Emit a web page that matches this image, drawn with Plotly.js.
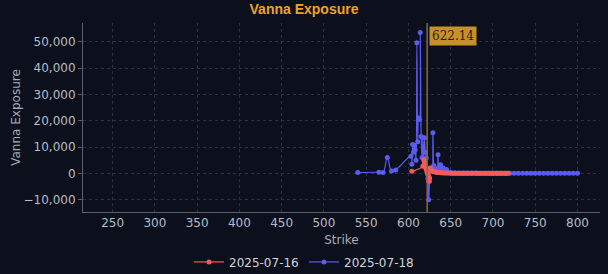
<!DOCTYPE html>
<html>
<head>
<meta charset="utf-8">
<script src="https://cdn.plot.ly/plotly-3.0.1.min.js"></script>
<style>
html,body{margin:0;padding:0;background:#0b101c;}
#chart{width:608px;height:274px;}
</style>
</head>
<body>
<div id="chart"></div>
<script>
// Series 2025-07-18 (blue)
const strikes18 = [540,565,570,575,580,585,603,604,605,606,607,608,609,610,611,612,613,614,615,616,617,618,619,620,621,622,623,624,625,626,627,628,629,630,631,632,633,634,635,636,637,638,639,640,641,645,650,655,660,665,670,675,680,685,690,695,700,705,710,715,720,725,730,735,740,745,750,755,760,765,770,775,780,785,790,795,800];
const vanna18 = [300,400,300,6000,900,1300,6500,3500,11000,8000,10700,9000,5000,49600,12000,21000,20500,53500,14000,6000,13500,3000,13500,8000,5800,2000,-2000,-10000,-3000,1000,2000,1500,15400,3000,2000,1500,1000,1200,7100,1500,1000,3300,800,500,2000,1500,300,200,150,100,100,100,80,60,50,50,40,30,30,20,20,20,10,10,10,10,10,10,10,10,10,10,10,10,10,10,10];

// Series 2025-07-16 (red)
const strikes16 = [604,617,618,619,620,621,622,623,624,625,626,627,628,629,630,631,632,633,634,635,636,637,638,639,640,642,644,646,648,650,652,654,656,658,660,662,664,666,668,670,672,674,676,678,680,682,684,686,688,690,692,694,696,698,700,702,704,706,708,710,712,714,716,718];
const vanna16 = [760,2700,5200,4000,2500,1500,300,-500,-3000,-1800,2000,1400,1000,800,700,600,500,450,400,350,300,280,250,220,200,150,120,100,80,60,50,40,30,25,20,15,10,10,10,5,5,5,5,5,0,0,0,0,0,0,0,0,0,0,0,0,0,0,0,0,0,0,0,0];

const spotPrice = 622.14;
const xTicks = [250,300,350,400,450,500,550,600,650,700,750,800];
const yTicks = [-10000,0,10000,20000,30000,40000,50000];

const axisFont = {family: 'DejaVu Sans, Verdana, sans-serif', size: 12, color: '#b8bcc6'};

const traces = [
  {
    x: strikes18, y: vanna18, name: '2025-07-18', type: 'scatter', mode: 'lines+markers',
    line: {color: '#5b5bf0', width: 1.2, shape: 'spline'},
    marker: {color: '#5b5bf0', size: 5}
  },
  {
    x: strikes16, y: vanna16, name: '2025-07-16', type: 'scatter', mode: 'lines+markers',
    line: {color: '#f55a5a', width: 1.2, shape: 'spline'},
    marker: {color: '#f55a5a', size: 5}
  }
];

const layout = {
  width: 608, height: 274,
  paper_bgcolor: '#0b101c', plot_bgcolor: '#0b101c',
  margin: {l: 83, r: 8, t: 23, b: 62, autoexpand: false},
  title: {text: '<b>Vanna Exposure</b>', x: 0.5, xanchor: 'center', yref: 'container', y: 0.985, yanchor: 'top',
          font: {family: 'Liberation Sans, Arial, sans-serif', size: 14, color: '#f0a228'}},
  xaxis: {
    range: [215, 826.6], tickvals: xTicks, ticktext: xTicks.map(String),
    showgrid: true, gridcolor: '#2a3145', griddash: 'dot', gridwidth: 1,
    zeroline: false, showline: true, linecolor: '#5a5f6c', linewidth: 1,
    ticks: '', ticklen: 0,
    tickfont: axisFont,
    title: {text: 'Strike', font: {family: 'DejaVu Sans, Verdana, sans-serif', size: 12, color: '#a8acb6'}, standoff: 6}
  },
  yaxis: {
    range: [-14700, 57150], tickvals: yTicks, tickformat: ',d',
    showgrid: true, gridcolor: '#2a3145', griddash: 'dot', gridwidth: 1,
    zeroline: false, showline: true, linecolor: '#5a5f6c', linewidth: 1,
    ticks: 'outside', ticklen: 4, tickcolor: '#5a5f6c',
    tickfont: axisFont,
    title: {text: 'Vanna Exposure', font: {family: 'DejaVu Sans, Verdana, sans-serif', size: 12, color: '#a8acb6'}, standoff: 0}
  },
  showlegend: true,
  legend: {orientation: 'h', x: 0.5, xref: 'container', xanchor: 'center', yref: 'container', y: 0.044, yanchor: 'middle',
           traceorder: 'reversed', font: {family: 'DejaVu Sans, Verdana, sans-serif', size: 12, color: '#d0d3da'},
           bgcolor: 'rgba(0,0,0,0)', entrywidth: 70},
  shapes: [{type: 'line', xref: 'x', yref: 'paper', x0: spotPrice, x1: spotPrice, y0: 0, y1: 1,
            line: {color: '#8a6a35', width: 1.5}}],
  annotations: [{x: spotPrice, xref: 'x', y: 1, yref: 'paper', xanchor: 'left', yanchor: 'top',
                 yshift: -3, xshift: 2, text: spotPrice.toFixed(2), showarrow: false,
                 bgcolor: '#c8902a', borderpad: 2,
                 font: {family: 'DejaVu Serif, Liberation Serif, serif', size: 12, color: '#2a2210'}}]
};

Plotly.newPlot('chart', traces, layout, {displayModeBar: false, staticPlot: true});
</script>
</body>
</html>
